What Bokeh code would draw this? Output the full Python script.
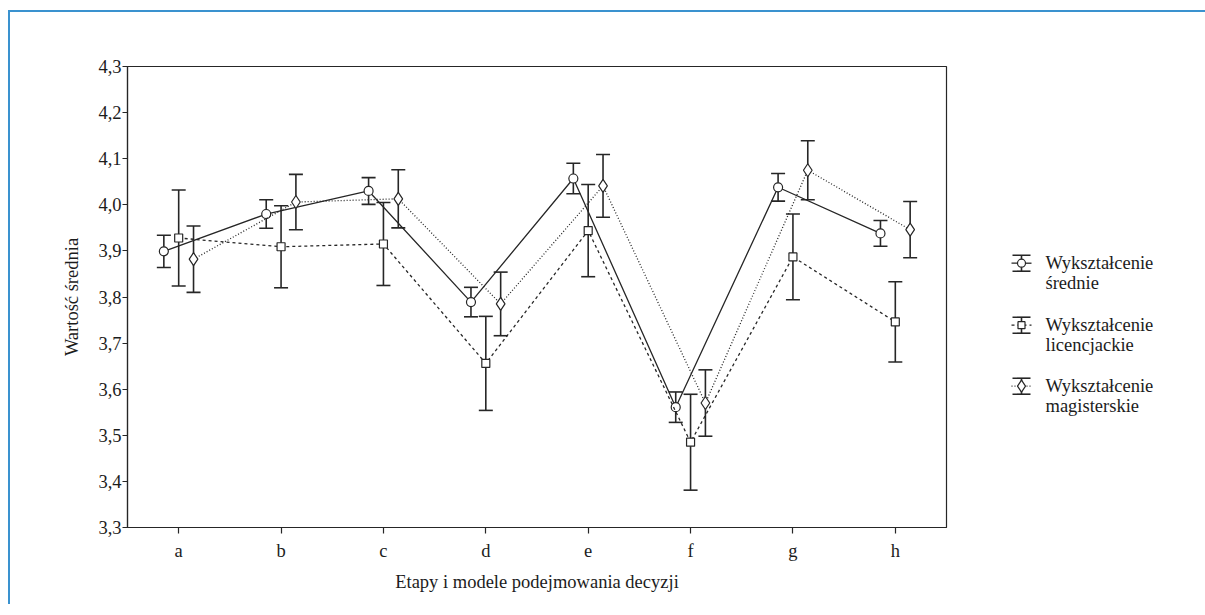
from bokeh.plotting import figure
from bokeh.models import (ColumnDataSource, Whisker, TeeHead, FixedTicker, Range1d)
from bokeh.layouts import row
from bokeh.core.properties import value
from bokeh.embed import file_html
from bokeh.resources import INLINE

# ---- data -----------------------------------------------------------
categories = ["a", "b", "c", "d", "e", "f", "g", "h"]
srednie_mean = [3.899, 3.980, 4.030, 3.789, 4.057, 3.561, 4.038, 3.938]
srednie_err = [0.035, 0.031, 0.029, 0.032, 0.033, 0.033, 0.030, 0.028]
lic_mean = [3.928, 3.909, 3.915, 3.656, 3.944, 3.485, 3.887, 3.746]
lic_err = [0.104, 0.089, 0.090, 0.102, 0.100, 0.104, 0.093, 0.087]
mag_mean = [3.882, 4.006, 4.013, 3.785, 4.041, 3.570, 4.075, 3.946]
mag_err = [0.072, 0.060, 0.063, 0.069, 0.068, 0.072, 0.064, 0.061]
y_ticks = [3.3, 3.4, 3.5, 3.6, 3.7, 3.8, 3.9, 4.0, 4.1, 4.2, 4.3]
y_tick_labels = ["3,3", "3,4", "3,5", "3,6", "3,7", "3,8", "3,9", "4,0", "4,1", "4,2", "4,3"]
series_names = [["Wykształcenie", "średnie"],
                ["Wykształcenie", "licencjackie"],
                ["Wykształcenie", "magisterskie"]]
x_title = "Etapy i modele podejmowania decyzji"
y_title = "Wartość średnia"

FONT = "Liberation Serif"
FS = "18.5px"
INK = "#262626"
TXT = "#1c1c1c"

series = [
    dict(mean=srednie_mean, err=srednie_err, off=-0.145, dash="solid",
         marker="circle", size=9),
    dict(mean=lic_mean, err=lic_err, off=0.0, dash="3 3",
         marker="square", size=8),
    dict(mean=mag_mean, err=mag_err, off=0.145, dash="1 2",
         marker="diamond", size=13),
]

H = 592
TOP = 54
FRAME_H = 461
BOT = H - TOP - FRAME_H

p = figure(width=941, height=H, output_backend="svg", toolbar_location=None,
           x_range=Range1d(0.5, 8.5), y_range=Range1d(3.3, 4.3),
           min_border_left=117, min_border_right=5, min_border_top=TOP,
           min_border_bottom=BOT)
p.grid.visible = False
p.outline_line_color = INK
p.outline_line_width = 1.2
p.background_fill_color = "white"
p.border_fill_color = "white"

xs_base = list(range(1, len(categories) + 1))
for s in series:
    xs = [x + s["off"] for x in xs_base]
    src = ColumnDataSource(dict(
        x=xs, y=s["mean"],
        lo=[m - e for m, e in zip(s["mean"], s["err"])],
        hi=[m + e for m, e in zip(s["mean"], s["err"])]))
    p.line("x", "y", source=src, line_color=INK, line_width=1.3,
           line_dash=s["dash"])
    w = Whisker(source=src, base="x", lower="lo", upper="hi",
                dimension="height", line_color=INK, line_width=1.6,
                level="underlay",
                upper_head=TeeHead(size=14, line_color=INK, line_width=1.6),
                lower_head=TeeHead(size=14, line_color=INK, line_width=1.6))
    p.add_layout(w)
    p.scatter("x", "y", source=src, marker=s["marker"], size=s["size"],
              fill_color="white", line_color=INK, line_width=1.2)

p.xaxis.ticker = FixedTicker(ticks=xs_base)
p.xaxis.major_label_overrides = {i + 1: c for i, c in enumerate(categories)}
p.yaxis.ticker = FixedTicker(ticks=y_ticks)
p.yaxis.major_label_overrides = dict(zip(y_ticks, y_tick_labels))

for ax in (p.xaxis[0], p.yaxis[0]):
    ax.minor_tick_line_color = None
    ax.major_tick_in = 0
    ax.major_tick_out = 6
    ax.major_tick_line_color = INK
    ax.major_tick_line_width = 1.2
    ax.axis_line_color = INK
    ax.axis_line_width = 1.2
    ax.major_label_text_font = FONT
    ax.major_label_text_font_size = FS
    ax.major_label_text_color = TXT
    ax.axis_label_text_font = FONT
    ax.axis_label_text_font_size = FS
    ax.axis_label_text_font_style = "normal"
    ax.axis_label_text_color = TXT

p.yaxis.major_tick_out = 5
p.yaxis.major_label_standoff = 1
p.yaxis.axis_label = y_title
p.yaxis.axis_label_standoff = 13
p.xaxis.axis_label = x_title
p.xaxis.major_label_standoff = 7
p.xaxis.axis_label_standoff = 8

# ---- legend panel (pixel coordinates, frame aligned with main plot) ----
LW = 254
leg = figure(width=LW, height=H, output_backend="svg", toolbar_location=None,
             x_range=Range1d(0, LW), y_range=Range1d(TOP + FRAME_H, TOP),
             min_border_left=0, min_border_right=0,
             min_border_top=TOP, min_border_bottom=BOT)
leg.axis.visible = False
leg.grid.visible = False
leg.outline_line_color = None
leg.background_fill_color = "white"
leg.border_fill_color = "white"

sym_x = 70
text_x = 94
entry_y = [250.7, 312.7, 373.7]
for s, names, yc in zip(series, series_names, entry_y):
    leg.segment(x0=[sym_x - 10], y0=[yc], x1=[sym_x + 10], y1=[yc],
                line_color=INK, line_width=1.3, line_dash=s["dash"])
    leg.segment(x0=[sym_x, sym_x - 9, sym_x - 9],
                y0=[yc - 8, yc - 8, yc + 8],
                x1=[sym_x, sym_x + 9, sym_x + 9],
                y1=[yc + 8, yc - 8, yc + 8],
                line_color=INK, line_width=1.6)
    leg.scatter([sym_x], [yc], marker=s["marker"], size=s["size"] - 1,
                fill_color="white", line_color=INK, line_width=1.2)
    leg.text(x=[text_x, text_x], y=[yc, yc + 20], text=names,
             text_baseline="middle", text_align="left",
             text_font=value(FONT), text_font_size=FS, text_color=TXT)

layout = row(p, leg, styles={"border-top": "2px solid #3a92cf",
                             "border-left": "2px solid #3a92cf",
                             "margin-top": "10px",
                             "margin-left": "8px"})

open("out.html", "w").write(file_html(layout, INLINE))
